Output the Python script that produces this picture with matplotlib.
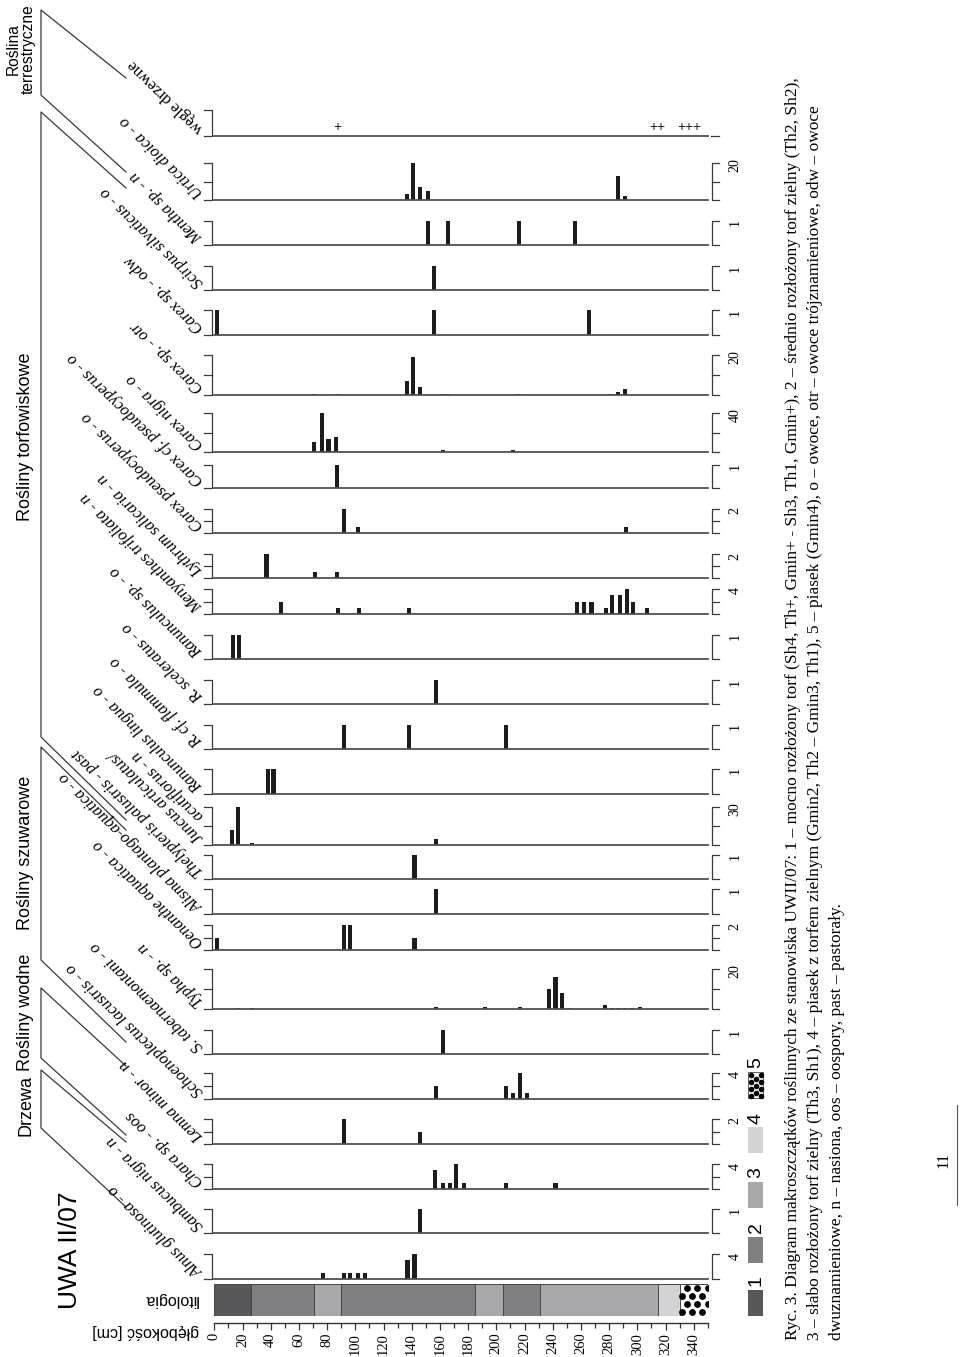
import matplotlib
matplotlib.use('Agg')
import matplotlib.pyplot as plt
import numpy as np
from matplotlib.patches import Rectangle

W, H = 960, 1357
SERIF = ['Liberation Serif', 'DejaVu Serif']
SANS = ['Liberation Sans', 'DejaVu Sans']
BAR = '#1c1c1c'
LINE = '#3a3a3a'

# ---------------- data (taxa listed bottom -> top of the page) ----------------
taxa = ["Alnus glutinosa - o", "Sambucus nigra - n", "Chara sp. - oos", "Lemna minor - n",
        "Schoenoplectus lacustris - o", "S. tabernaemontani - o", "Typha sp. - n",
        "Oenanthe aquatica - o", "Alisma plantago-aquatica - o", "Thelypteris palustris - past",
        "Juncus articulatus/|acutiflorus - n", "Ranunculus lingua - o", "R. cf. flammula - o",
        "R. sceleratus - o", "Ranunculus sp. - o", "Menyanthes trifoliata - n",
        "Lythrum salicaria - n", "Carex pseudocyperus - o", "Carex cf. pseudocyperus - o",
        "Carex nigra - o", "Carex sp. - otr", "Carex sp. - odw", "Scirpus silvaticus - o",
        "Mentha sp. - n", "Urtica dioica - o", "węgle drzewne"]
scales = [4, 1, 4, 2, 4, 1, 20, 2, 1, 1, 30, 1, 1, 1, 1, 4, 2, 2, 1, 40, 20, 1, 1, 1, 20, None]

alnus_d = [77, 92, 96, 102, 107, 137, 142]
alnus_v = [1, 1, 1, 1, 1, 3, 4]
sambucus_d = [146]
sambucus_v = [1]
chara_d = [156.5, 162, 167, 171.5, 177, 207, 242]
chara_v = [3, 1, 1, 4, 1, 1, 1]
lemna_d = [92, 146]
lemna_v = [2, 1]
schoeno_d = [157, 207, 212, 217, 221.5]
schoeno_v = [2, 2, 1, 4, 1]
stab_d = [162]
stab_v = [1]
typha_d = [17, 27, 157, 192, 217, 237.5, 242, 246.5, 251.5, 277, 282, 286.5, 291, 296, 302]
typha_v = [0.5, 0.5, 1, 1, 1, 10, 16, 8, 0.5, 2, 0.5, 0.5, 0.5, 0.5, 1]
oenanthe_d = [2, 92, 96.5, 142]
oenanthe_v = [1, 2, 2, 1]
alisma_d = [157]
alisma_v = [1]
thelypteris_d = [142]
thelypteris_v = [1]
juncus_d = [12.5, 17, 27, 157]
juncus_v = [12, 30, 1.5, 5]
rlingua_d = [38, 42]
rlingua_v = [1, 1]
rflammula_d = [92, 138, 207]
rflammula_v = [1, 1, 1]
rsceleratus_d = [157]
rsceleratus_v = [1]
ranunculus_d = [13, 17.5]
ranunculus_v = [1, 1]
menyanthes_d = [47, 88, 102.5, 138, 257, 262.5, 267.5, 277.5, 282, 287.5, 292.5, 297, 307]
menyanthes_v = [2, 1, 1, 1, 2, 2, 2, 1, 3, 3, 4, 2, 1]
lythrum_d = [37, 71.5, 87]
lythrum_v = [2, 0.5, 0.5]
cpseudo_d = [92, 102, 292]
cpseudo_v = [2, 0.5, 0.5]
ccf_d = [87]
ccf_v = [1]
cnigra_d = [71, 76.5, 81, 86, 162, 212]
cnigra_v = [10, 40, 13, 15, 2, 2]
cotr_d = [71, 87, 136.5, 141, 146, 162, 166, 216, 281, 286.5, 291]
cotr_v = [0.4, 0.4, 7, 19, 4, 0.4, 0.4, 0.4, 0.4, 1.5, 3]
codw_d = [1.7, 156, 266]
codw_v = [1, 1, 1]
scirpus_d = [156]
scirpus_v = [1]
mentha_d = [151.5, 166, 216, 256]
mentha_v = [1, 1, 1, 1]
urtica_d = [136.5, 141, 146, 151.5, 286.5, 291]
urtica_v = [3, 20, 7, 5, 13, 2]
wegle_d = [87, 314, 337]
wegle_marks = ['+', '++', '+++']

depths = [alnus_d, sambucus_d, chara_d, lemna_d, schoeno_d, stab_d, typha_d, oenanthe_d,
          alisma_d, thelypteris_d, juncus_d, rlingua_d, rflammula_d, rsceleratus_d,
          ranunculus_d, menyanthes_d, lythrum_d, cpseudo_d, ccf_d, cnigra_d, cotr_d,
          codw_d, scirpus_d, mentha_d, urtica_d, None]
values = [alnus_v, sambucus_v, chara_v, lemna_v, schoeno_v, stab_v, typha_v, oenanthe_v,
          alisma_v, thelypteris_v, juncus_v, rlingua_v, rflammula_v, rsceleratus_v,
          ranunculus_v, menyanthes_v, lythrum_v, cpseudo_v, ccf_v, cnigra_v, cotr_v,
          codw_v, scirpus_v, mentha_v, urtica_v, None]

lith_top = [0, 26, 71, 90, 185, 205, 231, 315, 330]
lith_bot = [26, 71, 90, 185, 205, 231, 315, 330, 350]
lith_type = [1, 2, 3, 2, 3, 2, 3, 4, 5]
lith_labels = ['1', '2', '3', '4', '5']
lith_colors = {1: '#58585a', 2: '#808082', 3: '#a8a8aa', 4: '#d3d3d5', 5: 'white'}

depth_major = list(range(0, 341, 20))
depth_minor = list(range(0, 351, 10))

groups = ["Drzewa", "Rośliny wodne", "Rośliny szuwarowe", "Rośliny torfowiskowe",
          "Roślina\nterrestryczne"]

caption = ["Ryc. 3. Diagram makroszczątków roślinnych ze stanowiska UWII/07: 1 – mocno rozłożony torf (Sh4, Th+, Gmin+ - Sh3, Th1, Gmin+), 2 – średnio rozłożony torf zielny (Th2, Sh2),",
           "3 – słabo rozłożony torf zielny (Th3, Sh1), 4 – piasek z torfem zielnym (Gmin2, Th2 – Gmin3, Th1), 5 – piasek (Gmin4), o – owoce, otr – owoce trójznamieniowe, odw – owoce",
           "dwuznamieniowe, n – nasiona, oos – oospory, past – pastorały."]

# ---------------- layout (pixel positions) ----------------
X0, XW = 214.3, 493.5          # depth 0..350 cm
bases = [1279, 1233, 1189, 1144, 1099, 1054, 1009, 950, 914, 879, 845, 794, 749, 704, 659,
         614, 578, 533, 488, 452, 395, 335, 290, 245, 200, 136]
tops = [1254, 1209, 1164, 1119, 1073, 1030, 969, 925, 889, 855, 807, 769, 725, 680, 635,
        589, 554, 509, 465, 413, 355, 310, 266, 221, 163, 110]

fig = plt.figure(figsize=(W / 100, H / 100), dpi=100)
ax0 = fig.add_axes([0, 0, 1, 1])
ax0.set_xlim(0, W)
ax0.set_ylim(H, 0)
ax0.axis('off')

# strips
for i, name in enumerate(taxa):
    b, t, sc = bases[i], tops[i], scales[i]
    ax = fig.add_axes([X0 / W, (H - b) / H, XW / W, (b - t) / H])
    ax.patch.set_alpha(0)
    ax.set_xlim(0, 350)
    ax.set_ylim(0, sc if sc else 1)
    for s in ['top', 'left', 'right']:
        ax.spines[s].set_visible(False)
    ax.spines['bottom'].set_color('#505050')
    ax.spines['bottom'].set_linewidth(1.3)
    ax.set_xticks([])
    ax.set_yticks([])
    if depths[i] is not None:
        ax.bar(depths[i], values[i], width=2.9, color=BAR, linewidth=0)
    else:
        for d, m in zip(wegle_d, wegle_marks):
            ax.text(d, 0.35, m, ha='center', va='center', fontsize=10, family=SANS,
                    color='#222')
    # brackets
    mid = sc is not None and sc in (2, 20, 30, 40) or (sc == 4 and i != 0)
    ax0.plot([204, 211.5, 211.5, 204], [t, t, b, b], color=LINE, lw=0.9)
    if sc is not None:
        ax0.plot([719, 711.5, 711.5, 719], [t, t, b, b], color=LINE, lw=0.9)
        if mid:
            ym = (t + b) / 2
            ax0.plot([204, 211.5], [ym, ym], color=LINE, lw=0.9)
            ax0.plot([711.5, 719], [ym, ym], color=LINE, lw=0.9)
        ax0.text(735, t + 2, str(sc), rotation=90, ha='center', va='center',
                 fontsize=10, family=SERIF)
    else:
        ax0.plot([711, 719], [b, b], color=LINE, lw=0.9)
    # taxon label
    style = 'normal' if name.startswith('węgle') else 'italic'
    parts = name.split('|')
    for k, p in enumerate(parts):
        ax0.text(201, b - 5 - 22 * k, p, rotation=136, rotation_mode='anchor',
                 ha='left', va='center', fontsize=11.8, family=SERIF, style=style)

# group brackets
brackets = [(1070, 1128, 1142, 1207), (988, 1058, 1066, 1135), (747, 960, 830, 1042),
            (112, 737, 188, 820), (10, 95, 78, 172)]
for (yt, yb, et, eb) in brackets:
    ax0.plot([126, 41, 41, 126], [et, yt, yb, eb], color=LINE, lw=0.9)

header_pos = [(26, 1106), (26, 1012), (26, 853), (26, 437), (21, 49)]
header_size = [13, 13, 13, 13, 11.2]
for g, (x, y), fs in zip(groups, header_pos, header_size):
    ax0.text(x, y, g, rotation=90, ha='center', va='center', fontsize=fs, family=SANS,
             linespacing=1.0)
ax0.text(70, 1250, "UWA II/07", rotation=90, ha='center', va='center', fontsize=19,
         family=SANS)

# lithology column
axl = fig.add_axes([X0 / W, (H - 1316) / H, XW / W, 32 / H])
axl.set_xlim(0, 350)
axl.set_ylim(0, 1)
axl.axis('off')
for a, bb, ty in zip(lith_top, lith_bot, lith_type):
    axl.barh(0.5, bb - a, left=a, height=1, color=lith_colors[ty], edgecolor='#454545',
             linewidth=0.7)
    if ty == 5:
        xs, ys = [], []
        for r, yy in enumerate(np.arange(0.13, 1.0, 0.25)):
            off = 0 if r % 2 == 0 else 3.6
            for xx in np.arange(a + 1.8 + off, bb, 7.2):
                xs.append(xx)
                ys.append(yy)
        axl.scatter(xs, ys, s=24, color='black', linewidth=0, clip_on=True)

# depth axis
axd = fig.add_axes([X0 / W, (H - 1323) / H, XW / W, 0.5 / H])
axd.set_xlim(0, 350)
for s in ['top', 'left', 'right']:
    axd.spines[s].set_visible(False)
axd.spines['bottom'].set_color('#333')
axd.spines['bottom'].set_linewidth(1.0)
axd.set_yticks([])
axd.set_xticks(depth_major)
axd.set_xticks(depth_minor, minor=True)
axd.set_xticklabels([str(v) for v in depth_major], rotation=90, family=SERIF, fontsize=10.5)
axd.tick_params(axis='x', which='major', length=5, width=0.9, color='#333', pad=2)
axd.tick_params(axis='x', which='minor', length=3.5, width=0.9, color='#333')

ax0.text(171, 1299, "litologia", rotation=180, ha='center', va='center', fontsize=11.5,
         family=SANS)
ax0.text(146, 1331, "głębokość [cm]", rotation=180, ha='center', va='center',
         fontsize=11.5, family=SANS)

# legend
leg_y = [1290, 1237, 1182, 1127, 1072]
for lab, yb in zip(lith_labels, leg_y):
    ty = int(lab)
    ax0.add_patch(Rectangle((748, yb), 15, 26, facecolor=lith_colors[ty],
                            edgecolor='#454545' if ty == 5 else 'none', lw=0.6))
    if ty == 5:
        dx, dy = [], []
        for r, xx in enumerate([751, 756, 761]):
            for yy in np.arange(yb + 3 + (3.5 if r % 2 else 0), yb + 26, 7):
                dx.append(xx)
                dy.append(yy)
        ax0.scatter(dx, dy, s=16, color='black', linewidth=0)
    ax0.text(756, yb - 9, lab, rotation=90, ha='center', va='center', fontsize=14,
             family=SANS)

# caption
for k, line in enumerate(caption):
    ax0.text(793 + 22 * k, 1340, line, rotation=90, rotation_mode='anchor', ha='left',
             va='center', fontsize=12.5, family=SERIF)

# page number
ax0.text(943, 1160, "11", rotation=90, ha='center', va='center', fontsize=12, family=SERIF)
ax0.plot([957, 957], [1105, 1205], color='#555', lw=0.8)

fig.savefig('out.png', dpi=100)
